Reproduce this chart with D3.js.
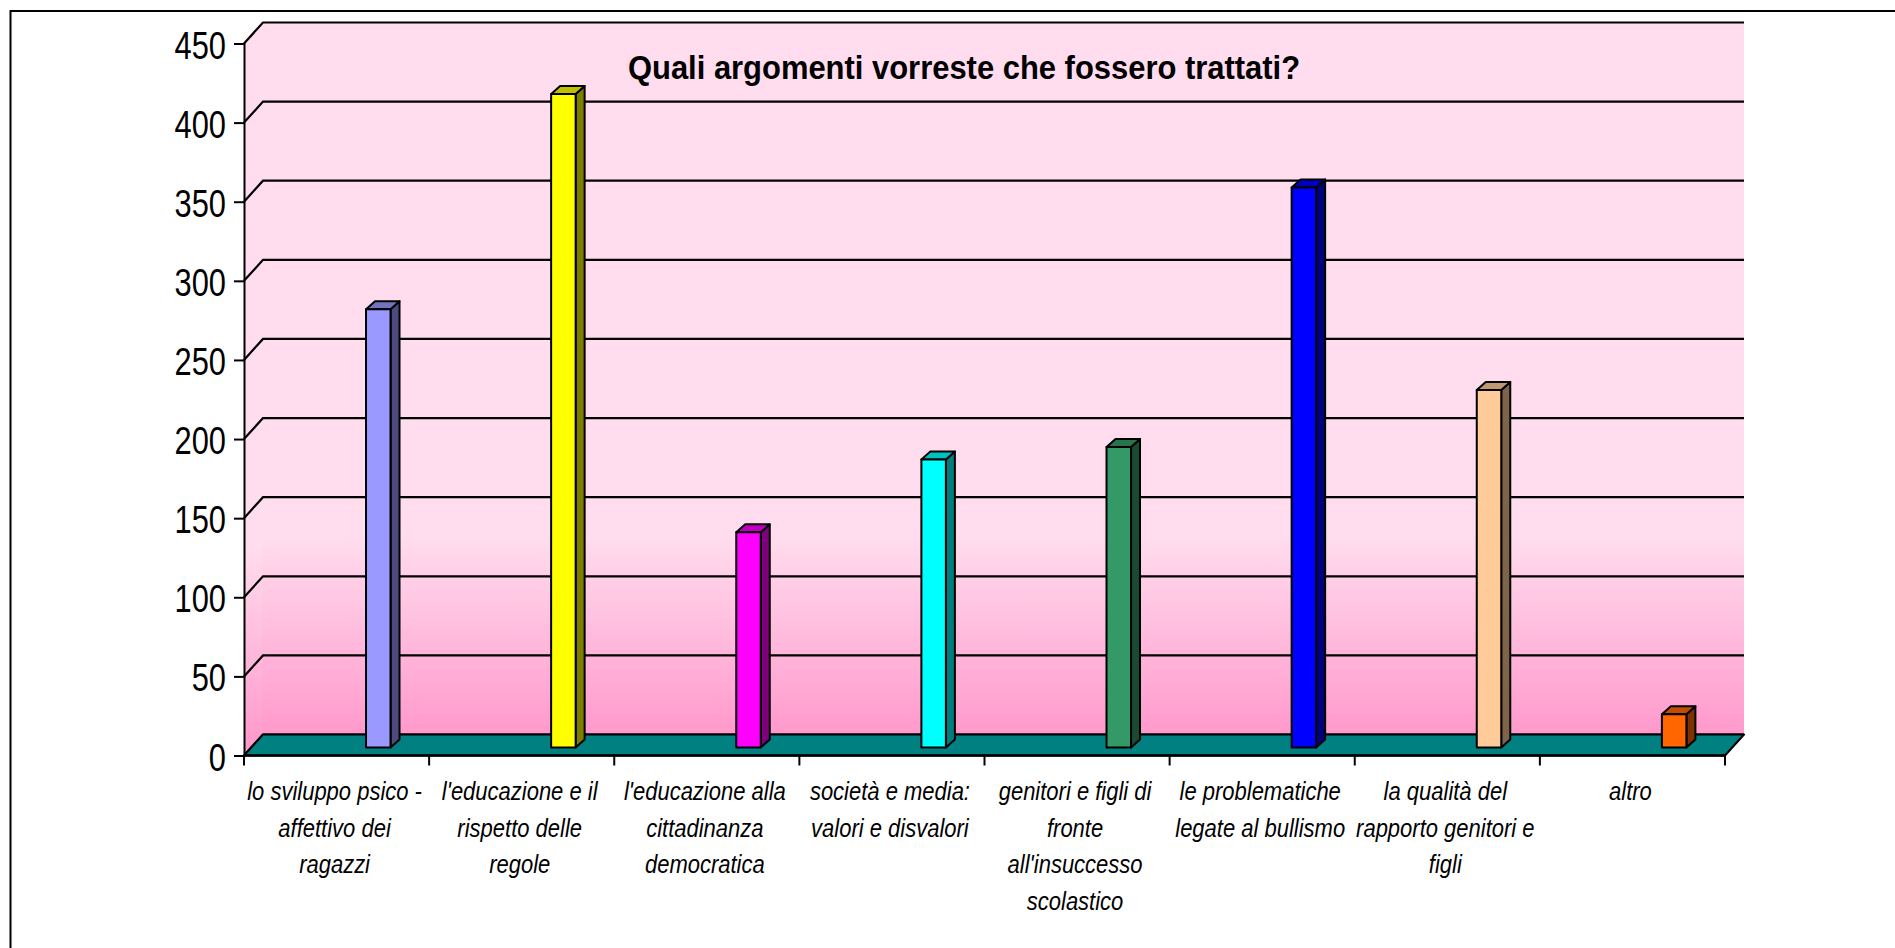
<!DOCTYPE html>
<html>
<head>
<meta charset="utf-8">
<script src="https://cdn.jsdelivr.net/npm/d3@7/dist/d3.min.js"></script>
<style>
  html, body { margin: 0; padding: 0; background: #ffffff; }
  svg { display: block; }
  text { font-family: "Liberation Sans", Arial, sans-serif; fill: #000; }
</style>
</head>
<body>
<svg id="chart" width="1895" height="948"></svg>
<script>
// ---------------- data ----------------
const title = "Quali argomenti vorreste che fossero trattati?";
const categories = [
  "lo sviluppo psico - affettivo dei ragazzi",
  "l'educazione e il rispetto delle regole",
  "l'educazione alla cittadinanza democratica",
  "società e media: valori e disvalori",
  "genitori e figli di fronte all'insuccesso scolastico",
  "le problematiche legate al bullismo",
  "la qualità del rapporto genitori e figli",
  "altro"
];
const labelLines = [
  ["lo sviluppo psico -", "affettivo dei", "ragazzi"],
  ["l'educazione e il", "rispetto delle", "regole"],
  ["l'educazione alla", "cittadinanza", "democratica"],
  ["società e media:", "valori e disvalori"],
  ["genitori e figli di", "fronte", "all'insuccesso", "scolastico"],
  ["le problematiche", "legate al bullismo"],
  ["la qualità del", "rapporto genitori e", "figli"],
  ["altro"]
];
const values = [277, 413, 136, 182, 190, 354, 226, 21];
const frontColors = ["#9999FF", "#FFFF00", "#FF00FF", "#00FFFF", "#339966", "#0000FF", "#FFCC99", "#FF6600"];
const yTicks = [0, 50, 100, 150, 200, 250, 300, 350, 400, 450];

// ---------------- layout ----------------
const svg = d3.select("#chart");
const left = 244, right = 1725, y0 = 755.5, yTop = 43.5;
const depthX = 19, depthY = 21;          // wall/floor depth
const barW = 24.5, barDX = 9, barDY = 8;  // bar 3D
const barShiftX = 41.7, barBaseShift = 8;

const x = d3.scaleBand().domain(categories).range([left, right]).padding(0);
const y = d3.scaleLinear().domain([0, 450]).range([y0, yTop]);

// outer frame
svg.append("rect").attr("x", 10.5).attr("y", 11).attr("width", 1900).attr("height", 1000)
  .attr("fill", "#fff").attr("stroke", "#000").attr("stroke-width", 2);

// gradient
const defs = svg.append("defs");
const grad = defs.append("linearGradient").attr("id", "wallGrad")
  .attr("gradientUnits", "userSpaceOnUse")
  .attr("x1", 0).attr("x2", 0).attr("y1", y(450) - depthY).attr("y2", y(0) - depthY);
grad.append("stop").attr("offset", "0").attr("stop-color", "#FFDDEE");
grad.append("stop").attr("offset", "0.72").attr("stop-color", "#FFDDEE");
grad.append("stop").attr("offset", "1").attr("stop-color", "#FF99CC");

const gradS = defs.append("linearGradient").attr("id", "sideGrad")
  .attr("gradientUnits", "userSpaceOnUse")
  .attr("x1", 0).attr("x2", 0).attr("y1", y(450) - depthY / 2).attr("y2", y(0) - depthY / 2);
gradS.append("stop").attr("offset", "0").attr("stop-color", "#FFDDEE");
gradS.append("stop").attr("offset", "0.72").attr("stop-color", "#FFDDEE");
gradS.append("stop").attr("offset", "1").attr("stop-color", "#FF99CC");

// back wall
svg.append("rect")
  .attr("x", left + depthX).attr("y", y(450) - depthY)
  .attr("width", (right - left)).attr("height", y(0) - y(450))
  .attr("fill", "url(#wallGrad)");
// side wall
svg.append("path")
  .attr("d", `M${left},${y(450)} L${left + depthX},${y(450) - depthY} L${left + depthX},${y(0) - depthY} L${left},${y(0)} Z`)
  .attr("fill", "url(#sideGrad)");

// gridlines
const grid = svg.append("g");
yTicks.forEach(v => {
  grid.append("path")
    .attr("d", `M${left},${y(v)} L${left + depthX},${y(v) - depthY} L${right + depthX},${y(v) - depthY}`)
    .attr("fill", "none").attr("stroke", "#000").attr("stroke-width", 2.2);
});

// floor
svg.append("path")
  .attr("d", `M${left},${y(0)} L${right},${y(0)} L${right + depthX},${y(0) - depthY} L${left + depthX},${y(0) - depthY} Z`)
  .attr("fill", "#008080").attr("stroke", "#000").attr("stroke-width", 2).attr("stroke-linejoin", "round");

// y axis
const yAxis = d3.axisLeft(y).tickValues(yTicks).tickSize(10).tickFormat("");
const gy = svg.append("g").attr("transform", `translate(${left},0)`).call(yAxis);
gy.selectAll("path.domain").attr("stroke", "#000").attr("stroke-width", 2);
gy.selectAll(".tick line").attr("stroke", "#000").attr("stroke-width", 2);
yTicks.forEach(v => {
  svg.append("g").attr("transform", `translate(${left - 18},${y(v) + 15}) scale(0.79,1)`)
    .append("text").attr("text-anchor", "end").attr("font-size", 39).text(v);
});

// x axis ticks at band boundaries
const xEdges = categories.map(c => x(c)).concat([x(categories[categories.length - 1]) + x.bandwidth()]);
svg.append("line").attr("x1", left).attr("x2", right).attr("y1", y(0)).attr("y2", y(0))
  .attr("stroke", "#000").attr("stroke-width", 2.5);
xEdges.forEach(px => {
  svg.append("line").attr("x1", px).attr("x2", px).attr("y1", y(0)).attr("y2", y(0) + 10)
    .attr("stroke", "#000").attr("stroke-width", 2);
});

// category labels
categories.forEach((c, i) => {
  const cx = x(c) + x.bandwidth() / 2 - 2;
  labelLines[i].forEach((ln, j) => {
    svg.append("g").attr("transform", `translate(${cx},${800 + j * 36.7}) scale(0.88,1)`)
      .append("text").attr("text-anchor", "middle").attr("font-size", 25)
      .attr("font-style", "italic").text(ln);
  });
});

// bars
const base = y(0) - barBaseShift;
const yb = v => y(v) - barBaseShift;
categories.forEach((c, i) => {
  const col = d3.color(frontColors[i]);
  const x0 = x(c) + x.bandwidth() / 2 + barShiftX - barW / 2;
  const x1 = x0 + barW;
  const top = yb(values[i]);
  const g = svg.append("g").attr("stroke", "#000").attr("stroke-width", 2).attr("stroke-linejoin", "round");
  // side
  g.append("path")
    .attr("d", `M${x1},${top} L${x1 + barDX},${top - barDY} L${x1 + barDX},${base - barDY} L${x1},${base} Z`)
    .attr("fill", col.darker(2.0));
  // top
  g.append("path")
    .attr("d", `M${x0},${top} L${x0 + barDX},${top - barDY} L${x1 + barDX},${top - barDY} L${x1},${top} Z`)
    .attr("fill", col.darker(0.8));
  // front
  g.append("rect").attr("x", x0).attr("y", top).attr("width", barW).attr("height", base - top)
    .attr("fill", frontColors[i]);
});

// title
svg.append("g").attr("transform", `translate(964,79) scale(0.91,1)`)
  .append("text").attr("text-anchor", "middle").attr("font-size", 34).attr("font-weight", "bold")
  .text(title);
</script>
</body>
</html>
